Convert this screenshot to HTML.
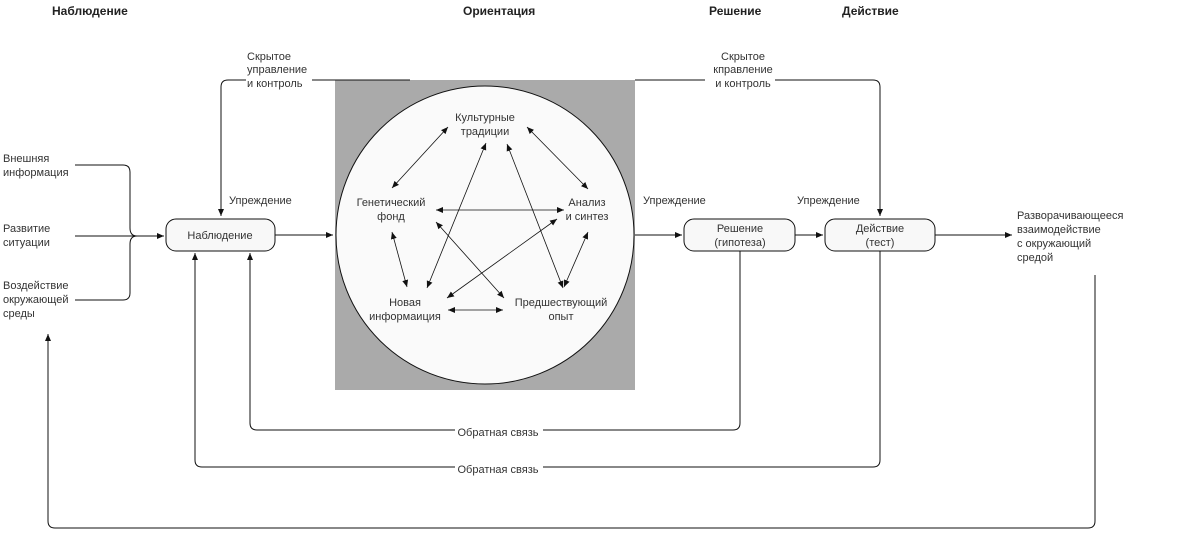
<!DOCTYPE html>
<html><head><meta charset="utf-8"><style>
body{margin:0;background:#fff}
svg text{font-family:"Liberation Sans",sans-serif;font-size:11px;fill:#333}
</style></head><body>
<svg width="1177" height="538" viewBox="0 0 1177 538" xmlns="http://www.w3.org/2000/svg">
<defs>
<marker id="a" markerWidth="8" markerHeight="8" refX="7" refY="4" orient="auto-start-reverse" markerUnits="userSpaceOnUse"><path d="M0,1 L7,4 L0,7 Z" fill="#111"/></marker>
</defs>
<g font-weight="bold">
<text x="52" y="15" style="font-size:12px;font-weight:bold;fill:#222">Наблюдение</text>
<text x="463" y="15" style="font-size:12px;font-weight:bold;fill:#222">Ориентация</text>
<text x="709" y="15" style="font-size:12px;font-weight:bold;fill:#222">Решение</text>
<text x="842" y="15" style="font-size:12px;font-weight:bold;fill:#222">Действие</text>
</g>
<rect x="335" y="80" width="300" height="310" fill="#aaa"/>
<circle cx="485" cy="235" r="149" fill="#fafafa" stroke="#111" stroke-width="1"/>
<g fill="none" stroke="#111" stroke-width="1">
<path d="M410,80 H312"/>
<path d="M246,80 H228 Q221,80 221,87 V216" marker-end="url(#a)"/>
<path d="M635,80 H705"/>
<path d="M775,80 H873 Q880,80 880,87 V216" marker-end="url(#a)"/>
<path d="M75,165 H123 Q130,165 130,172 V228 Q130,236 137,236 Q130,236 130,244 V293 Q130,300 123,300 H75"/>
<path d="M75,236 H164" marker-end="url(#a)"/>
<path d="M275,235 H333" marker-end="url(#a)"/>
<path d="M635,235 H682" marker-end="url(#a)"/>
<path d="M795,235 H823" marker-end="url(#a)"/>
<path d="M935,235 H1012" marker-end="url(#a)"/>
<path d="M740,251 V423 Q740,430 733,430 H257 Q250,430 250,423 V253" marker-end="url(#a)"/>
<path d="M880,251 V460 Q880,467 873,467 H202 Q195,467 195,460 V253" marker-end="url(#a)"/>
<path d="M1095,275 V521 Q1095,528 1088,528 H55 Q48,528 48,521 V334" marker-end="url(#a)"/>
<g marker-start="url(#a)" marker-end="url(#a)" stroke-width="0.8">
<path d="M448,127 L392,188"/>
<path d="M527,127 L588,189"/>
<path d="M436,210 L564,210"/>
<path d="M392,232 L407,287"/>
<path d="M588,232 L564,287"/>
<path d="M486,143 L427,288"/>
<path d="M507,144 L563,288"/>
<path d="M436,222 L504,298"/>
<path d="M557,219 L447,298"/>
<path d="M448,310 L503,310"/>
</g>
</g>
<rect x="166" y="219" width="109" height="32" rx="10" fill="#f8f8f8" stroke="#111"/>
<rect x="684" y="219" width="111" height="32" rx="10" fill="#f8f8f8" stroke="#111"/>
<rect x="825" y="219" width="110" height="32" rx="10" fill="#f8f8f8" stroke="#111"/>
<rect x="455" y="426" width="88" height="12" fill="#fff"/>
<rect x="455" y="463" width="88" height="12" fill="#fff"/>
<g text-anchor="middle">
<text x="220" y="239">Наблюдение</text>
<text x="740" y="232">Решение</text><text x="740" y="246">(гипотеза)</text>
<text x="880" y="232">Действие</text><text x="880" y="246">(тест)</text>
<text x="485" y="121">Культурные</text><text x="485" y="135">традиции</text>
<text x="391" y="206">Генетический</text><text x="391" y="220">фонд</text>
<text x="587" y="206">Анализ</text><text x="587" y="220">и синтез</text>
<text x="405" y="306">Новая</text><text x="405" y="320">информаиция</text>
<text x="561" y="306">Предшествующий</text><text x="561" y="320">опыт</text>
<text x="743" y="60">Скрытое</text><text x="743" y="73">кправление</text><text x="743" y="87">и контроль</text>
<text x="498" y="436">Обратная связь</text>
<text x="498" y="473">Обратная связь</text>
</g>
<text x="247" y="60">Скрытое</text><text x="247" y="73">управление</text><text x="247" y="87">и контроль</text>
<text x="3" y="162">Внешняя</text><text x="3" y="176">информация</text>
<text x="3" y="232">Развитие</text><text x="3" y="246">ситуации</text>
<text x="3" y="289">Воздействие</text><text x="3" y="303">окружающей</text><text x="3" y="317">среды</text>
<text x="229" y="204">Упреждение</text>
<text x="643" y="204">Упреждение</text>
<text x="797" y="204">Упреждение</text>
<text x="1017" y="219">Разворачивающееся</text><text x="1017" y="233">взаимодействие</text><text x="1017" y="247">с окружающий</text><text x="1017" y="261">средой</text>
</svg>
</body></html>
